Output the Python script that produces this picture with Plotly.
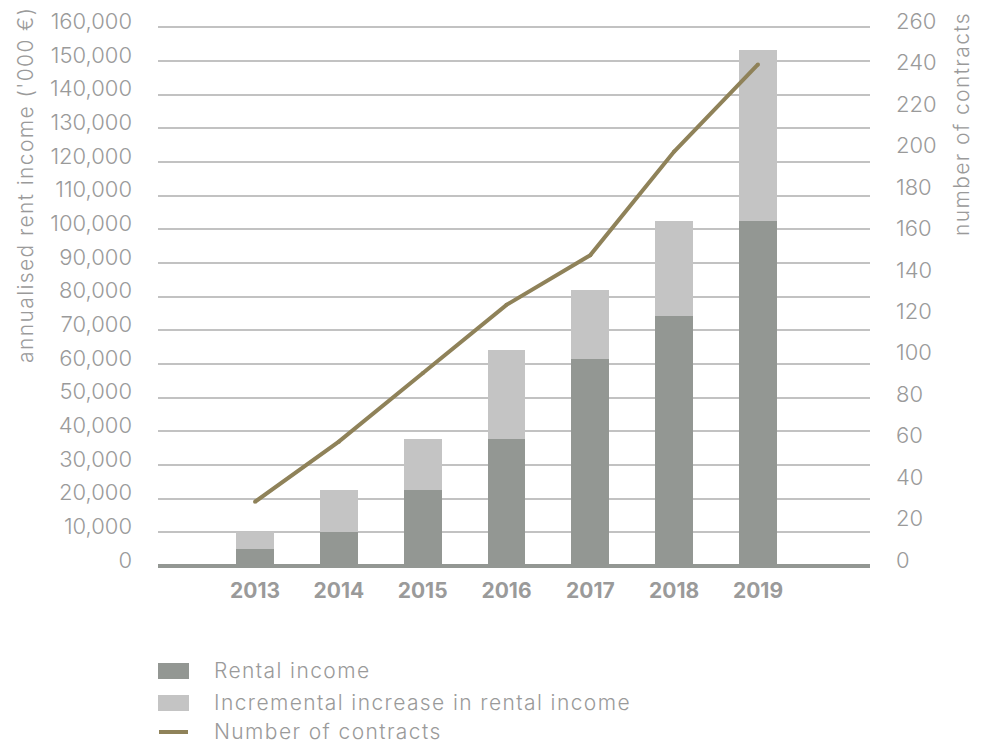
import plotly.graph_objects as go

# --- data -------------------------------------------------------------
years = ["2013", "2014", "2015", "2016", "2017", "2018", "2019"]
rental_income = [5000, 10000, 22700, 37700, 61400, 74200, 102500]      # '000 €
incremental_increase = [5000, 12600, 15000, 26400, 20500, 28200, 50700]  # '000 €
contracts = [31, 60, 93, 126, 150, 200, 242]

left_ticks = list(range(0, 160001, 10000))
right_ticks = list(range(0, 261, 20))

# --- styling ----------------------------------------------------------
DARK = "#939793"
LIGHT = "#c4c4c4"
LINE = "#8f8259"
GRID = "#c2c2c2"
TEXT = "#9a9a9a"
FONT = "Inter"
TRACK = "letter-spacing:1.4px"

# plot area in pixels (984 x 748 canvas)
W, H = 984, 748
L, R, T, B = 158, 870, 25, 566

# a little headroom so the top gridline is kept clear of the plot edge
PAD = 1.004


def px_x(x):
    return (x - L) / (R - L)


def px_y(y):
    return (B - y) / (B - T)


def tracked(s):
    return f'<span style="{TRACK}">{s}</span>'


fig = go.Figure()

fig.add_trace(go.Bar(
    x=years, y=rental_income, name="Rental income",
    marker=dict(color=DARK, line=dict(width=0)), width=0.453,
    showlegend=False,
))
fig.add_trace(go.Bar(
    x=years, y=incremental_increase, name="Incremental increase in rental income",
    marker=dict(color=LIGHT, line=dict(width=0)), width=0.453,
    showlegend=False,
))
fig.add_trace(go.Scatter(
    x=years, y=contracts, name="Number of contracts", yaxis="y2",
    mode="lines+markers",
    line=dict(color=LINE, width=4),
    marker=dict(color=LINE, size=4),
    showlegend=False,
))

tick_font = dict(family=FONT, size=22, color=TEXT, weight=300)

fig.update_layout(
    width=W, height=H,
    margin=dict(l=L, r=W - R, t=T, b=H - B),
    paper_bgcolor="white", plot_bgcolor="white",
    barmode="stack",
    bargap=0,
    xaxis=dict(
        type="category",
        range=[-1.157, 7.336],
        showgrid=False, showline=False, zeroline=False,
        ticks="",
        tickfont=dict(family=FONT, size=21, color=TEXT, weight="bold"),
        ticklabelstandoff=10,
        automargin=False,
        fixedrange=True,
    ),
    yaxis=dict(
        range=[0, 160000 * PAD],
        tickvals=left_ticks,
        tickformat=",d",
        tickfont=tick_font,
        showgrid=True, gridcolor=GRID, gridwidth=1.5,
        zeroline=True, zerolinecolor=DARK, zerolinewidth=4,
        showline=False, ticks="",
        ticklabelstandoff=25,
        ticklabelshift=-6,
        automargin=False,
        fixedrange=True,
    ),
    yaxis2=dict(
        range=[0, 260 * PAD],
        tickvals=right_ticks,
        overlaying="y", side="right",
        tickfont=tick_font,
        showgrid=False, zeroline=False, showline=False, ticks="",
        ticklabelstandoff=25,
        ticklabelshift=-6,
        automargin=False,
        fixedrange=True,
    ),
)

# axis titles
fig.add_annotation(
    text=tracked("annualised rent income ('000 €)"), textangle=-90,
    xref="paper", yref="paper", x=px_x(26), y=px_y(185),
    xanchor="center", yanchor="middle", showarrow=False,
    font=dict(family=FONT, size=21, color=TEXT, weight=300),
)
fig.add_annotation(
    text=tracked("number of contracts"), textangle=-90,
    xref="paper", yref="paper", x=px_x(962), y=px_y(124),
    xanchor="center", yanchor="middle", showarrow=False,
    font=dict(family=FONT, size=21, color=TEXT, weight=300),
)

# legend
legend_rows = [
    ("Rental income", "box", DARK, 671),
    ("Incremental increase in rental income", "box", LIGHT, 703),
    ("Number of contracts", "line", LINE, 732),
]
for label, kind, color, yc in legend_rows:
    if kind == "box":
        fig.add_shape(
            type="rect", xref="paper", yref="paper",
            x0=px_x(158), x1=px_x(189), y0=px_y(yc - 8), y1=px_y(yc + 8),
            fillcolor=color, line=dict(width=0),
        )
    else:
        fig.add_shape(
            type="line", xref="paper", yref="paper",
            x0=px_x(159), x1=px_x(188), y0=px_y(yc), y1=px_y(yc),
            line=dict(color=color, width=4),
        )
    fig.add_annotation(
        text=tracked(label), xref="paper", yref="paper",
        x=px_x(212), y=px_y(yc - 1), xanchor="left", yanchor="middle",
        showarrow=False, font=dict(family=FONT, size=21, color=TEXT, weight=300),
    )

fig.write_html("out.html")
